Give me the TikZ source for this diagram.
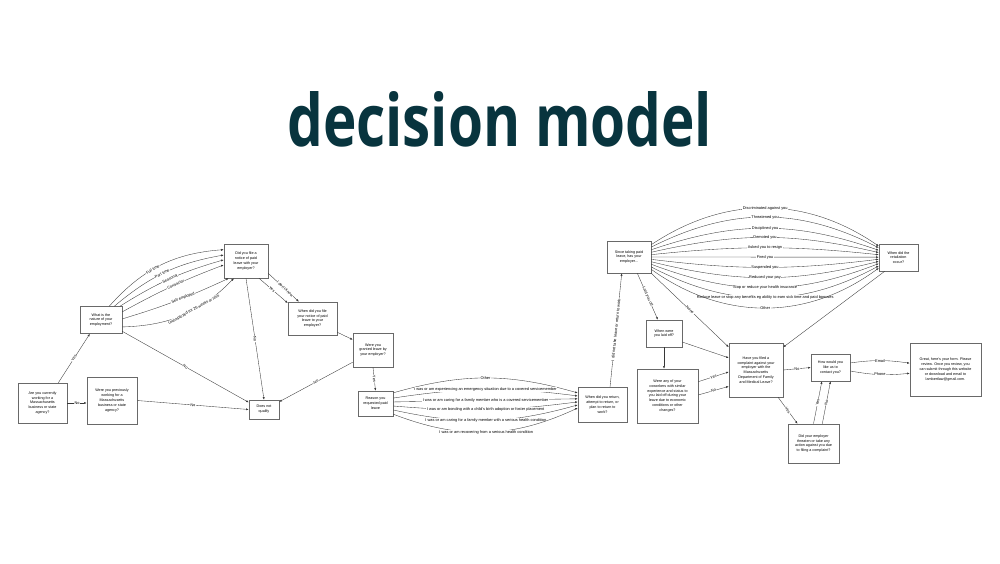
\documentclass[tikz,border=0pt]{standalone}
\usepackage{fontspec}
\usepackage{graphicx}
\setmainfont{Liberation Sans}
\newfontfamily\titlefont{Open Sans}
\usetikzlibrary{arrows.meta}
\definecolor{deepteal}{RGB}{8, 52, 62}
\definecolor{boxline}{RGB}{105, 105, 105}
\definecolor{wireline}{RGB}{55, 55, 55}

\begin{document}
\begin{tikzpicture}[x=1pt, y=1pt,
    box/.style={draw=boxline, fill=white, line width=0.6pt, align=center, inner sep=1pt, font=\fontsize{3.7}{4.8}\selectfont},
    wire/.style={draw=wireline, line width=0.35pt, -{Latex[length=2.6pt, width=2pt]}},
    flattag/.style={fill=white, inner sep=0.5pt, font=\fontsize{3.9}{4}\selectfont},
    tag/.style={flattag, sloped}]
\fill[white] (0,0) rectangle (1000,-563);
\useasboundingbox (0,0) rectangle (1000,-563);

\node[anchor=south west, inner sep=0, text=deepteal] (title) at (287,-147) {\resizebox{425pt}{55pt}{\titlefont\bfseries decision model}};

\node[box, minimum width=49, minimum height=40] (curwork)   at ( 42.5,-403.0) {Are you currently\\working for a\\Massachusetts\\business or state\\agency?};
\node[box, minimum width=50, minimum height=47] (prevwork)  at (112.0,-400.5) {Were you previously\\working for a\\Massachusetts\\business or state\\agency?};
\node[box, minimum width=42, minimum height=27] (nature)    at (101.0,-320.0) {What is the\\nature of your\\employment?};
\node[box, minimum width=44, minimum height=34] (filed)     at (246.0,-261.0) {Did you file a\\notice of paid\\leave with your\\employer?};
\node[box, minimum width=49, minimum height=33] (whenfiled) at (312.5,-318.5) {When did you file\\your notice of paid\\leave to your\\employer?};
\node[box, minimum width=40, minimum height=34] (granted)   at (373.0,-350.0) {Were you\\granted leave by\\your employer?};
\node[box, minimum width=30, minimum height=19] (noqual)    at (264.0,-409.5) {Does not\\qualify};
\node[box, minimum width=35, minimum height=25] (reason)    at (375.5,-403.5) {Reason you\\requested paid\\leave};
\node[box, minimum width=49, minimum height=35] (returned)  at (602.5,-404.5) {When did you return,\\attempt to return, or\\plan to return to\\work?};
\node[box, minimum width=44, minimum height=32] (since)     at (629.0,-257.0) {Since taking paid\\leave, has your\\employer...};
\node[box, minimum width=39, minimum height=27] (retdate)   at (898.5,-257.5) {When did the\\retaliation\\occur?};
\node[box, minimum width=36, minimum height=27] (laidoff)   at (664.0,-333.5) {When were\\you laid off?};
\node[box, minimum width=61, minimum height=54] (coworkers) at (667.5,-396.0) {Were any of your\\coworkers with similar\\experience and status to\\you laid off during your\\leave due to economic\\conditions or other\\changes?};
\node[box, minimum width=54, minimum height=54] (complaint) at (756.0,-370.0) {Have you filed a\\complaint against your\\employer with the\\Massachusetts\\Department of Family\\and Medical Leave?};
\node[box, minimum width=39, minimum height=27] (contact)   at (830.5,-367.5) {How would you\\like us to\\contact you?};
\node[box, minimum width=51, minimum height=39] (threat)    at (813.5,-443.5) {Did your employer\\threaten or take any\\action against you due\\to filing a complaint?};
\node[box, minimum width=71, minimum height=53] (form)      at (945.5,-369.5) {Great, here's your form. Please\\review. Once you review, you\\can submit through this website\\or download and email to\\lambertlaw@gmail.com.};

\draw[wire] (curwork.52)   -- node[tag] {Yes} (nature.-129);
\draw[wire] (curwork.east) -- node[tag] {No}  (curwork.east -| prevwork.west);
\draw[wire] (prevwork.east) -- node[tag] {No} (noqual.west);
\draw[wire] (nature.-28)   -- node[tag] {No}  (noqual.155);

\draw[wire] (nature.59)  to[bend left=22]  node[tag, pos=0.43] {Full time}     (filed.153);
\draw[wire] (nature.46)  to[bend left=15]  node[tag, pos=0.47] {Part time}     (filed.165);
\draw[wire] (nature.36)  to[bend left=8]   node[tag, pos=0.5]  {Seasonal}      (filed.177);
\draw[wire] (nature.21)  to[bend left=4]   node[tag, pos=0.54] {Contractor}    (filed.190);
\draw[wire] (nature.3)   to[bend right=4]  node[tag, pos=0.57] {Self employed} (filed.225);
\draw[wire] (nature.-18) to[bend right=22] node[tag, pos=0.6]  {Unemployed for 26 weeks or less} (filed.235);

\draw[wire] (filed.south) -- node[tag] {No}                     (noqual.north);
\draw[wire] (filed.-53)   -- node[tag, pos=0.45] {Yes}          (whenfiled.148);
\draw[wire] (filed.-29)   -- node[tag, pos=0.55] {I don't know} (whenfiled.129);
\draw[wire] (whenfiled.-29) -- (granted.153);
\draw[wire] (granted.211)   -- node[tag] {No}  (noqual.27);
\draw[wire] (granted.south) -- node[tag] {Yes} (reason.north);

\draw[wire] (reason.31)  to[bend left=16]  node[flattag] {Other} (returned.155);
\draw[wire] (reason.17)  to[bend left=8]   node[flattag] {I was or am experiencing an emergency situation due to a covered servicemember} (returned.161);
\draw[wire] (reason.5)   --                node[flattag] {I was or am caring for a family member who is a covered servicemember} (returned.167);
\draw[wire] (reason.-8)  to[bend right=6]  node[flattag] {I was or am bonding with a child's birth adoption or foster placement} (returned.174);
\draw[wire] (reason.-20) to[bend right=14] node[flattag] {I was or am caring for a family member with a serious health condition} (returned.181);
\draw[wire] (reason.-31) to[bend right=23] node[flattag] {I was or am recovering from a serious health condition} (returned.188);

\draw[wire] (returned.67) -- node[tag] {I did not take leave or return to work} (since.-114);

\draw[wire] (since.29)  to[bend left=34]  node[flattag] {Discriminated against you} (retdate.150);
\draw[wire] (since.24)  to[bend left=27]  node[flattag] {Threatened you}            (retdate.154);
\draw[wire] (since.18)  to[bend left=19]  node[flattag] {Disciplined you}           (retdate.160);
\draw[wire] (since.12)  to[bend left=13]  node[flattag] {Demoted you}               (retdate.166);
\draw[wire] (since.6)   to[bend left=6]   node[flattag] {Asked you to resign}       (retdate.172);
\draw[wire] (since.0)   --                node[flattag] {Fired you}                 (retdate.179);
\draw[wire] (since.-6)  to[bend right=7]  node[flattag] {Suspended you}             (retdate.185);
\draw[wire] (since.-12) to[bend right=14] node[flattag] {Reduced your pay}          (retdate.191);
\draw[wire] (since.-18) to[bend right=21] node[flattag] {Stop or reduce your health insurance} (retdate.197);
\draw[wire] (since.-24) to[bend right=28] node[flattag] {Reduce leave or stop any benefits eg ability to earn sick time and paid bonuses} (retdate.203);
\draw[wire] (since.-29) to[bend right=36] node[flattag] {Other}                     (retdate.208);

\draw[wire] (since.-63)        -- node[tag] {Laid you off} (laidoff.114);
\draw[wire] (since.south east) -- node[tag] {None}         (complaint.140);
\draw[wire] (retdate.225)      -- (complaint.40);
\draw[wire] (laidoff.south)    -- (laidoff.south |- coworkers.north);
\draw[wire] (laidoff.-25)      -- (complaint.156);
\draw[wire] (coworkers.25)     -- node[tag] {Yes} (complaint.184);
\draw[wire] (coworkers.2)      -- node[tag] {No}  (complaint.211);

\draw[wire] (complaint.east) -- node[tag] {No}  (contact.west);
\draw[wire] (complaint.-51)  -- node[tag] {Yes} (threat.129);
\draw[wire] (threat.north)   -- node[tag] {Yes} (contact.-122);
\draw[wire] (threat.66)      -- node[tag] {No}  (contact.south);
\draw[wire] (contact.13)  to[bend left=8]  node[flattag] {Email} (form.170);
\draw[wire] (contact.-10) to[bend right=8] node[flattag] {Phone} (form.186);
\end{tikzpicture}
\end{document}
